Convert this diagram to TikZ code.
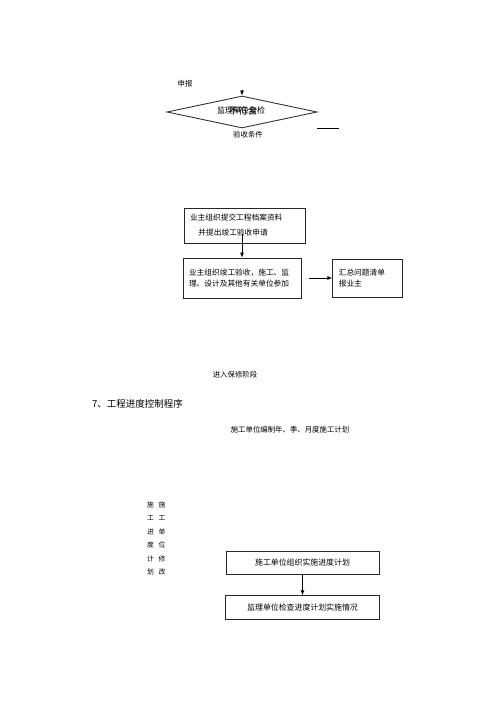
\documentclass[tikz,border=0pt]{standalone}
\usepackage{fontspec}
\setmainfont{Noto Sans CJK SC}
\usetikzlibrary{positioning,shapes.geometric,arrows.meta}

\begin{document}
\begin{tikzpicture}[
    x=1pt, y=-1pt,
    box/.style={
        draw=black!85,
        line width=0.8pt,
        inner xsep=6pt,
        inner ysep=0pt,
        align=left,
        font=\fontsize{7.7}{11}\selectfont
    },
    note/.style={
        draw=none,
        inner sep=0pt,
        font=\fontsize{7.4}{9}\selectfont
    },
    arr/.style={
        -{Latex[length=5pt,width=4pt]},
        line width=0.8pt
    }
    ]
    \useasboundingbox (0,0) rectangle (500,722);

    % acceptance part
    \node[note] (apply) at (185,84) {申报};
    \node[draw=black!80, line width=0.9pt, diamond, aspect=4.7, minimum width=150pt, minimum height=32pt, inner sep=0pt] (recheck) at (242,112) {};
    \node[note, font=\fontsize{8}{9}\selectfont] (recheck_text) at (241,110) {监理单位复检};
    \node[note, font=\fontsize{9.5}{10}\selectfont] (fail) at (243,110.5) {不符合};
    \node[note] (conditions) at (248,135) {验收条件};
    \coordinate (apply_in) at (242,90);
    \draw[arr] (apply_in) -- (recheck.north);
    \coordinate (back_a) at (317,128);
    \coordinate (back_b) at (339,128);
    \draw[line width=0.8pt] (back_a) -- (back_b);

    \node[box, font=\fontsize{7.7}{15}\selectfont, text width=109pt, minimum height=35pt] (submit) at (244.5,225.5) {业主组织提交工程档案资料\\\hspace*{1.1em}并提出竣工验收申请};
    \node[box, text width=106pt, minimum height=40pt] (accept) at (242,278) {业主组织竣工验收，施工、监\\理、设计及其他有关单位参加};
    \node[box, text width=58pt, minimum height=38pt, right=31pt of accept] (report) {汇总问题清单\\报业主};
    \coordinate[above=24pt of accept.north] (submit_out);
    \draw[arr] (submit_out) -- (accept.north);
    \coordinate[right=8pt of accept.east] (accept_out);
    \draw[arr] (accept_out) -- (accept_out -| report.west);

    \node[note] (warranty) at (235,375) {进入保修阶段};

    % progress control part
    \node[note, anchor=west, font=\fontsize{9.5}{10}\selectfont] (title) at (92,404) {7、工程进度控制程序};
    \node[note] (plan_make) at (290,430) {施工单位编制年、季、月度施工计划};
    \node[note, align=center, font=\fontsize{6.8}{13.4}\selectfont] (plan_col) at (150.5,538.5) {施\\工\\进\\度\\计\\划};
    \node[note, align=center, font=\fontsize{6.8}{13.4}\selectfont] (revise_col) at (162,538.5) {施\\工\\单\\位\\修\\改};

    \node[box, align=center, font=\fontsize{7.9}{9}\selectfont, minimum width=153pt, minimum height=23pt] (plan_run) at (302.5,562.5) {施工单位组织实施进度计划};
    \node[box, align=center, font=\fontsize{7.9}{9}\selectfont, minimum width=154pt, minimum height=24pt, below=21pt of plan_run] (plan_check) {监理单位检查进度计划实施情况};
    \draw[arr] (plan_run) -- (plan_check);
\end{tikzpicture}
\end{document}
